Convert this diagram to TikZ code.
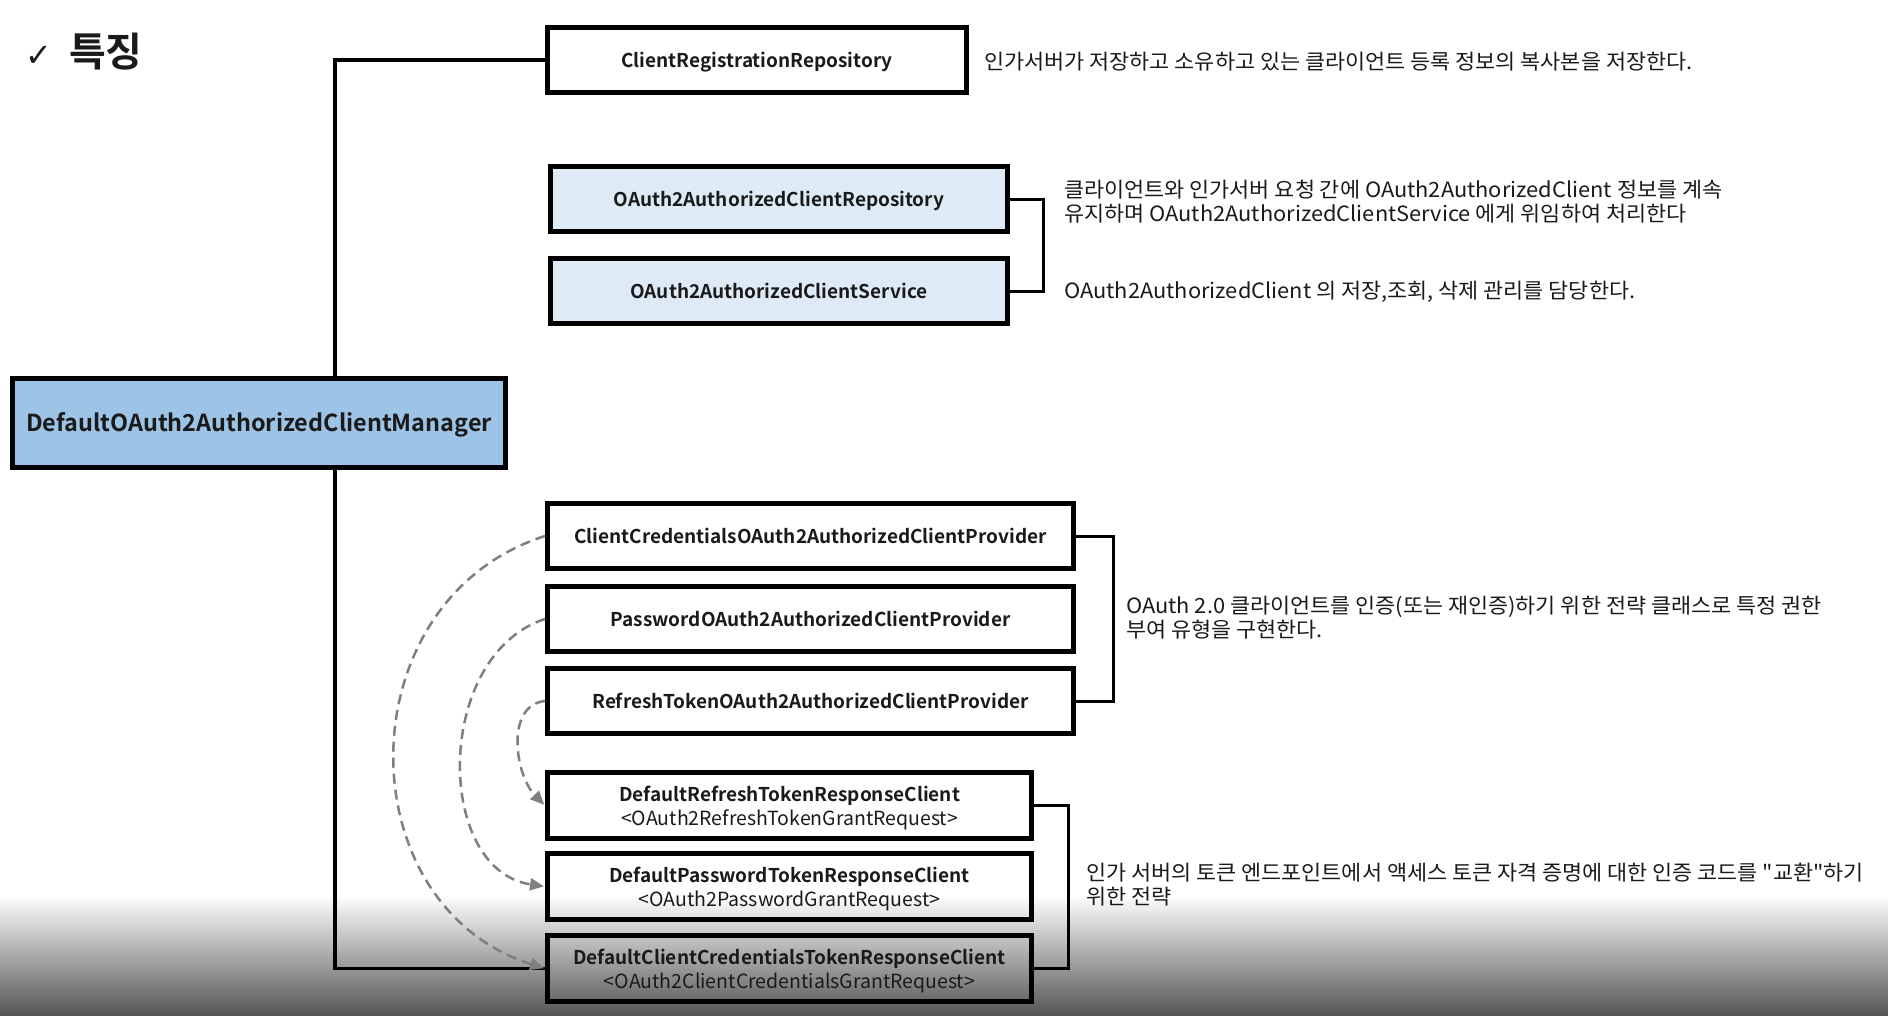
\documentclass[tikz,border=0pt]{standalone}
\usepackage{fontspec}
\setmainfont{Noto Sans CJK KR}[BoldFont={Noto Sans CJK KR Bold},Ligatures=TeXOff]
\newfontfamily\descfont{Noto Sans CJK KR}[FakeStretch=1.04,Ligatures=TeXOff]
\newfontfamily\symfont{DejaVu Sans}
\usetikzlibrary{arrows.meta}
\definecolor{mainblue}{HTML}{9DC3E6}
\definecolor{lightblue}{HTML}{DEEBF7}
\definecolor{dashgray}{HTML}{7F7F7F}
\definecolor{txt}{HTML}{1A1A1A}
\definecolor{gradbot}{HTML}{555555}
\newcommand{\twolines}[2]{\raisebox{-7.25pt}[24pt][24pt]{\begin{tabular}{@{}c@{}}#1\\{\mdseries\fontsize{19.5}{24}\selectfont #2}\end{tabular}}}
\begin{document}
\begin{tikzpicture}[x=1pt,y=-1pt,
  box/.style={draw=black,line width=5pt,inner sep=0pt,align=center,text=txt,
    font=\bfseries\fontsize{19}{24}\selectfont},
  onebox/.style={box,text height=14pt,text depth=0pt},
  desc/.style={anchor=west,inner sep=0pt,align=left,text=txt,
    font=\descfont\fontsize{21}{24}\selectfont},
  conn/.style={draw=black,line width=3.5pt},
  bracket/.style={draw=black,line width=3pt},
  dashcurve/.style={draw=dashgray,line width=2.5pt,dash pattern=on 10pt off 6pt,
    -{Triangle[length=14pt,width=12pt]},shorten >=1pt}
]
% background with bottom shading
\fill[white] (0,0) rectangle (1888,1015);
\shade[top color=white,bottom color=gradbot] (0,895) rectangle (1888,1015);
\useasboundingbox (0,0) rectangle (1888,1015);

% title
\node[anchor=west,inner sep=0pt,text=txt] (title) at (25,52)
  {{\symfont\fontsize{32}{36}\selectfont ✓}\hspace{17pt}{\bfseries\fontsize{40}{44}\selectfont 특징}};

% boxes
\node[onebox,minimum width=419pt,minimum height=65pt] (crr) at (757,60) {ClientRegistrationRepository};
\node[onebox,fill=lightblue,minimum width=457pt,minimum height=65pt] (ocr) at (779,199) {OAuth2AuthorizedClientRepository};
\node[onebox,fill=lightblue,minimum width=457pt,minimum height=65pt] (ocs) at (779,291) {OAuth2AuthorizedClientService};

\node[onebox,minimum width=526pt,minimum height=65pt] (ccp) at (810.5,536) {ClientCredentialsOAuth2AuthorizedClientProvider};
\node[onebox,minimum width=526pt,minimum height=65pt] (pp) at (810.5,619) {PasswordOAuth2AuthorizedClientProvider};
\node[onebox,minimum width=526pt,minimum height=65pt] (rtp) at (810.5,701) {RefreshTokenOAuth2AuthorizedClientProvider};

\node[box,minimum width=484pt,minimum height=66pt] (drtrc) at (789.5,805.5)
  {\twolines{DefaultRefreshTokenResponseClient}{<OAuth2RefreshTokenGrantRequest>}};
\node[box,minimum width=484pt,minimum height=66pt] (dptrc) at (789.5,886.5)
  {\twolines{DefaultPasswordTokenResponseClient}{<OAuth2PasswordGrantRequest>}};
\node[box,minimum width=484pt,minimum height=66pt] (dcctrc) at (789.5,968.5)
  {\twolines{DefaultClientCredentialsTokenResponseClient}{<OAuth2ClientCredentialsGrantRequest>}};

% main connector (drawn before main box so the box covers it)
\coordinate (jb) at (335,968.5);
\draw[conn] (crr.west) -| (jb) -- (dcctrc.west);

\node[box,fill=mainblue,minimum width=493pt,minimum height=89pt,text height=17pt,text depth=0pt,
  font=\bfseries\fontsize{23.4}{28}\selectfont] (main) at (259,423) {DefaultOAuth2AuthorizedClientManager};

% brackets
\draw[bracket] (ocr.east) -- ++(33,0) |- (ocs.east);
\draw[bracket] (ccp.east) -- ++(37,0) |- (rtp.east);
\draw[bracket] (drtrc.east) -- ++(34,0) |- (dcctrc.east);

% dashed curves
\draw[dashcurve] (ccp.west) .. controls (345,600) and (345,905) .. (dcctrc.west);
\draw[dashcurve] (pp.west) .. controls (434,655) and (434,870) .. (dptrc.west);
\draw[dashcurve] (rtp.west) .. controls (505,705) and (515,775) .. (drtrc.west);

% descriptions
\node[desc] (d0) at (984,62) {인가서버가 저장하고 소유하고 있는 클라이언트 등록 정보의 복사본을 저장한다.};
\node[desc] (d1) at (1064,202) {클라이언트와 인가서버 요청 간에 OAuth2AuthorizedClient 정보를 계속\\유지하며 OAuth2AuthorizedClientService 에게 위임하여 처리한다};
\node[desc] (d2) at (1064,292) {OAuth2AuthorizedClient 의 저장,조회, 삭제 관리를 담당한다.};
\node[desc] (d3) at (1126,618) {OAuth 2.0 클라이언트를 인증(또는 재인증)하기 위한 전략 클래스로 특정 권한\\부여 유형을 구현한다.};
\node[desc] (d4) at (1086,885) {인가 서버의 토큰 엔드포인트에서 액세스 토큰 자격 증명에 대한 인증 코드를 "교환"하기\\위한 전략};
\end{tikzpicture}
\end{document}
